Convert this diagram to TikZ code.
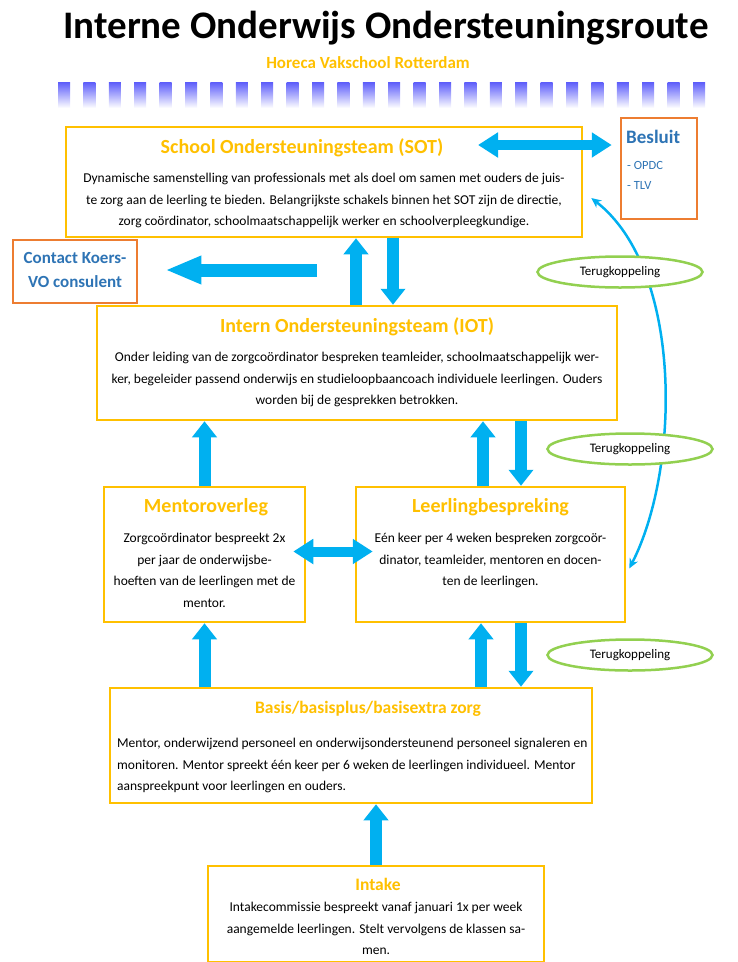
\documentclass[tikz,border=0pt]{standalone}
\usepackage{fontspec}
\setmainfont{Carlito}
\usetikzlibrary{arrows.meta,shapes.geometric}

\definecolor{boxyellow}{RGB}{255,192,0}
\definecolor{titlegold}{RGB}{255,192,0}
\definecolor{arrowblue}{RGB}{0,176,240}
\definecolor{besluitorange}{RGB}{237,125,49}
\definecolor{besluitblue}{RGB}{46,116,181}
\definecolor{teruggreen}{RGB}{146,208,80}
\definecolor{sqblue}{RGB}{92,92,250}

\tikzset{
  ybox/.style={draw=boxyellow,line width=2.5pt,fill=white,inner sep=0pt},
  obox/.style={draw=besluitorange,line width=2.5pt,fill=white,inner sep=0pt},
  btitle/.style={text=titlegold,font=\fontsize{20}{24}\selectfont\bfseries,inner sep=0pt},
  stitle/.style={btitle,font=\fontsize{17.5}{21}\selectfont\bfseries},
  btext/.style={font=\fontsize{13.5}{21.5}\selectfont,align=center,inner sep=0pt},
  otext/.style={text=besluitblue,font=\fontsize{17}{24}\selectfont\bfseries,align=center,inner sep=0pt},
  terug/.style={ellipse,draw=teruggreen,line width=2.5pt,fill=white,minimum width=165pt,
    minimum height=31pt,inner sep=0pt,font=\fontsize{13}{15}\selectfont},
  barrow/.style={draw=arrowblue,line width=12pt,-{Triangle[length=16pt,width=24pt]}},
  lbarrow/.style={draw=arrowblue,line width=13pt,-{Triangle[length=36pt,width=26pt]}},
  dbarrow/.style={draw=arrowblue,line width=10pt,
    {Triangle[length=20pt,width=24pt]}-{Triangle[length=20pt,width=24pt]}},
  fbarrow/.style={draw=arrowblue,line width=2.5pt,
    {Stealth[length=10pt,width=9pt]}-{Stealth[length=10pt,width=9pt]}},
}

\begin{document}
\begin{tikzpicture}[x=1pt,y=-1pt]
\useasboundingbox (0,0) rectangle (737,962);

%% kop
\node[font=\fontsize{39}{44}\selectfont\bfseries] (titel) at (386,28)
  {Interne Onderwijs Ondersteuningsroute};
\node[text=titlegold,font=\fontsize{17}{20}\selectfont\bfseries] (school) at (368,63)
  {Horeca Vakschool Rotterdam};
\foreach \i in {0,...,25}
  \shade[top color=sqblue,middle color=sqblue!75!white,bottom color=white]
    ({58+25.4*\i},82) rectangle ++(12,26);

%% SOT
\node[ybox,minimum width=516pt,minimum height=110pt] (sot) at (324,182) {};
\node[btitle] (sottitel) at (302,148) {School Ondersteuningsteam (SOT)};
\node[btext,anchor=north] (sottekst) at (324,173)
  {Dynamische samenstelling van professionals met als doel om samen met ouders  de juis-\\
   te zorg aan de leerling te bieden. Belangrijkste schakels binnen het SOT zijn de directie,\\
   zorg coördinator, schoolmaatschappelijk werker en schoolverpleegkundige.};

%% besluit
\node[obox,minimum width=76pt,minimum height=101pt] (besluit) at (659,168.5) {};
\node[otext,font=\fontsize{19}{22}\selectfont\bfseries,anchor=west] (besluittitel) at (626,137) {Besluit};
\node[text=besluitblue,font=\fontsize{12.5}{20}\selectfont,align=left,inner sep=0pt,
  anchor=north west] (besluittekst) at (627,161) {- OPDC\\- TLV};

%% contact
\node[obox,minimum width=124pt,minimum height=63pt] (contact) at (75,271.5) {};
\node[otext] (contacttekst) at (75,270) {Contact Koers-\\VO consulent};

%% IOT
\node[ybox,minimum width=520pt,minimum height=114pt] (iot) at (357,363) {};
\node[btitle] (iottitel) at (357,327) {Intern Ondersteuningsteam (IOT)};
\node[btext,anchor=north] (iottekst) at (357,352)
  {Onder leiding van de zorgcoördinator bespreken teamleider, schoolmaatschappelijk wer-\\
   ker, begeleider passend onderwijs en studieloopbaancoach individuele leerlingen. Ouders\\
   worden bij de gesprekken betrokken.};

%% mentoroverleg
\node[ybox,minimum width=201pt,minimum height=135pt] (mento) at (204.5,554.5) {};
\node[btitle] (mentotitel) at (206,507) {Mentoroverleg};
\node[btext,anchor=north] (mentotekst) at (204.5,533)
  {Zorgcoördinator bespreekt 2x\\per jaar de onderwijsbe-\\
   hoeften van de leerlingen met de\\mentor.};

%% leerlingbespreking
\node[ybox,minimum width=269pt,minimum height=135pt] (leer) at (490.5,554.5) {};
\node[btitle] (leertitel) at (490.5,507) {Leerlingbespreking};
\node[btext,anchor=north] (leertekst) at (490.5,533)
  {Eén keer per 4 weken bespreken zorgcoör-\\dinator, teamleider, mentoren en docen-\\
   ten de leerlingen.};

%% basis
\node[ybox,minimum width=482pt,minimum height=115pt] (basis) at (351,745.5) {};
\node[stitle] (basistitel) at (368,709) {Basis/basisplus/basisextra zorg};
\node[btext,align=left,anchor=north west] (basistekst) at (117,738)
  {Mentor, onderwijzend personeel en onderwijsondersteunend personeel signaleren en\\
   monitoren. Mentor spreekt één keer per 6 weken de leerlingen individueel. Mentor\\
   aanspreekpunt voor leerlingen en ouders.};

%% intake
\node[ybox,minimum width=336pt,minimum height=96pt] (intake) at (376,914) {};
\node[stitle] (intaketitel) at (378,884) {Intake};
\node[btext,anchor=north] (intaketekst) at (376,902)
  {Intakecommissie bespreekt vanaf januari 1x per week\\
   aangemelde leerlingen. Stelt vervolgens de klassen sa-\\men.};

%% pijlen
\coordinate (sotpijl) at (478,145);
\coordinate (contactpijl) at (317,270);
\draw[dbarrow,shorten >=8pt] (sotpijl) -- (sotpijl -| besluit.west);
\draw[lbarrow,shorten >=27pt] (contactpijl) -- (contactpijl -| contact.east);
\draw[barrow] ([xshift=-1pt]iot.north) -- ([xshift=-1pt]iot.north |- sot.south);
\draw[barrow] ([xshift=36pt]iot.north |- sot.south) -- ([xshift=36pt]iot.north);
\draw[barrow] (mento.north) -- (mento.north |- iot.south);
\draw[barrow] ([xshift=-7.5pt]leer.north) -- ([xshift=-7.5pt]leer.north |- iot.south);
\draw[barrow] ([xshift=30.5pt]leer.north |- iot.south) -- ([xshift=30.5pt]leer.north);
\draw[dbarrow] ([xshift=-13pt,yshift=3pt]mento.east) -- ([xshift=18pt,yshift=3pt]leer.west);
\draw[barrow] (basis.north -| mento.south) -- (mento.south);
\draw[barrow] ([xshift=-9.5pt]leer.south |- basis.north) -- ([xshift=-9.5pt]leer.south);
\draw[barrow] ([xshift=30.5pt]leer.south) -- ([xshift=30.5pt]leer.south |- basis.north);
\draw[barrow] (intake.north) -- (intake.north |- basis.south);

%% terugkoppeling
\draw[fbarrow] ([xshift=3pt,yshift=-14pt]leer.east) .. controls (680,470) and (684,270)
  .. ([xshift=8pt,yshift=-16pt]sot.east);
\node[terug] (terug1) at (620,272) {Terugkoppeling};
\node[terug] (terug2) at (630,449) {Terugkoppeling};
\node[terug] (terug3) at (630,655) {Terugkoppeling};
\end{tikzpicture}
\end{document}
